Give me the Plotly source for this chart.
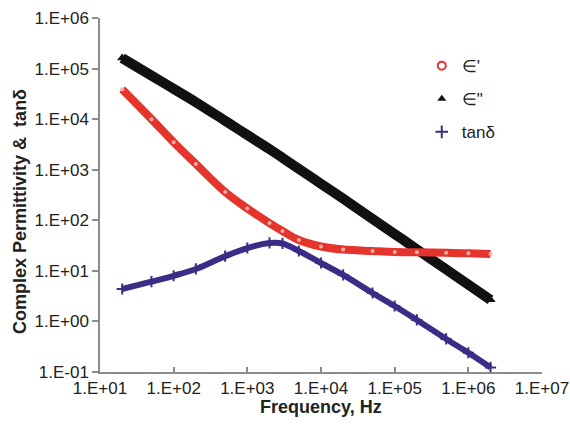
import plotly.graph_objects as go

# Frequencies (Hz)
freq = [20, 50, 100, 200, 500, 1e3, 2e3, 3e3, 5e3, 1e4, 2e4, 5e4, 1e5, 2e5, 5e5, 1e6, 2e6]

# Real permittivity  e'
eps_real = [3.9e4, 1.0e4, 3.5e3, 1.3e3, 362, 171, 88, 61.4, 40.7, 30.3, 26.4, 24.7, 23.6, 23.3, 22.8, 22.2, 21.5]

# Imaginary permittivity e''
eps_imag = [1.61e5, 7.26e4, 3.97e4, 2.17e4, 9.27e3, 4.86e3, 2.55e3, 1.72e3, 1.04e3, 527, 267, 107, 53.5, 26.7, 10.7, 5.35, 2.67]

# Loss tangent
tan_delta = [4.38, 6.1, 8.0, 10.9, 19.5, 28.3, 35.6, 34.8, 24.7, 14.3, 8.3, 3.65, 2.02, 1.07, 0.45, 0.24, 0.123]

x_tickvals = [1e1, 1e2, 1e3, 1e4, 1e5, 1e6, 1e7]
x_ticktext = ["1.E+01", "1.E+02", "1.E+03", "1.E+04", "1.E+05", "1.E+06", "1.E+07"]
y_tickvals = [1e-1, 1e0, 1e1, 1e2, 1e3, 1e4, 1e5, 1e6]
y_ticktext = ["1.E-01", "1.E+00", "1.E+01", "1.E+02", "1.E+03", "1.E+04", "1.E+05", "1.E+06"]

RED = "#e4342b"
BLACK = "#111111"
PURPLE = "#3c2c86"
FONT = "Liberation Sans, Arial, sans-serif"

fig = go.Figure()

# data traces
fig.add_trace(go.Scatter(x=freq, y=eps_imag, mode="lines+markers", showlegend=False,
                         line=dict(color=BLACK, width=10, shape="spline"),
                         marker=dict(symbol="triangle-up", size=9, color=BLACK)))
fig.add_trace(go.Scatter(x=freq, y=eps_real, mode="lines+markers", showlegend=False,
                         line=dict(color=RED, width=8, shape="spline"),
                         marker=dict(symbol="circle", size=4, color="#f4b0a8",
                                     line=dict(width=0))))
fig.add_trace(go.Scatter(x=freq, y=tan_delta, mode="lines+markers", showlegend=False,
                         line=dict(color=PURPLE, width=6, shape="spline"),
                         marker=dict(symbol="cross-thin", size=8,
                                     line=dict(color=PURPLE, width=2))))

# legend entries
fig.add_trace(go.Scatter(x=[None], y=[None], mode="markers", name="∈'", legendgroup="a",
                         marker=dict(symbol="circle-open", size=8, color=RED, line=dict(width=2))))
fig.add_trace(go.Scatter(x=[None], y=[None], mode="markers", name="∈\"", legendgroup="b",
                         marker=dict(symbol="triangle-up", size=8, color=BLACK)))
fig.add_trace(go.Scatter(x=[None], y=[None], mode="markers", name="tanδ", legendgroup="c",
                         marker=dict(symbol="cross-thin", size=9, line=dict(color=PURPLE, width=2))))

axis_common = dict(showgrid=False, zeroline=False, showline=True, linecolor="#8c8c8c",
                   linewidth=1.5, tickcolor="#8c8c8c", tickwidth=1.5, automargin=False,
                   tickfont=dict(family=FONT, size=17, color="#222222"))

fig.update_xaxes(type="log", range=[1, 7], tickvals=x_tickvals, ticktext=x_ticktext,
                 ticks="inside", ticklen=5, **axis_common)
fig.update_yaxes(type="log", range=[-1, 6], tickvals=y_tickvals, ticktext=y_ticktext,
                 ticks="outside", ticklen=6, **axis_common)

fig.add_annotation(text="Complex Permittivity &  tanδ", xref="paper", yref="paper",
                   x=-0.181, y=0.455, textangle=-90, showarrow=False,
                   xanchor="center", yanchor="middle",
                   font=dict(family=FONT, size=18, color="#222222", weight="bold"))
fig.add_annotation(text="Frequency, Hz", xref="paper", yref="paper",
                   x=0.5, y=-0.099, showarrow=False, xanchor="center", yanchor="middle",
                   font=dict(family=FONT, size=18, color="#222222", weight="bold"))

fig.update_layout(
    width=570, height=425,
    margin=dict(l=100, r=28, t=18, b=53),
    paper_bgcolor="white", plot_bgcolor="white",
    legend=dict(x=0.728, y=0.915, xanchor="left", yanchor="top",
                traceorder="grouped", tracegroupgap=8,
                bgcolor="rgba(0,0,0,0)",
                font=dict(family=FONT, size=17, color="#222222")),
)

fig.write_html("out.html", config={"displayModeBar": False},
               post_script="document.body.style.margin='0';document.body.style.overflow='hidden';")
